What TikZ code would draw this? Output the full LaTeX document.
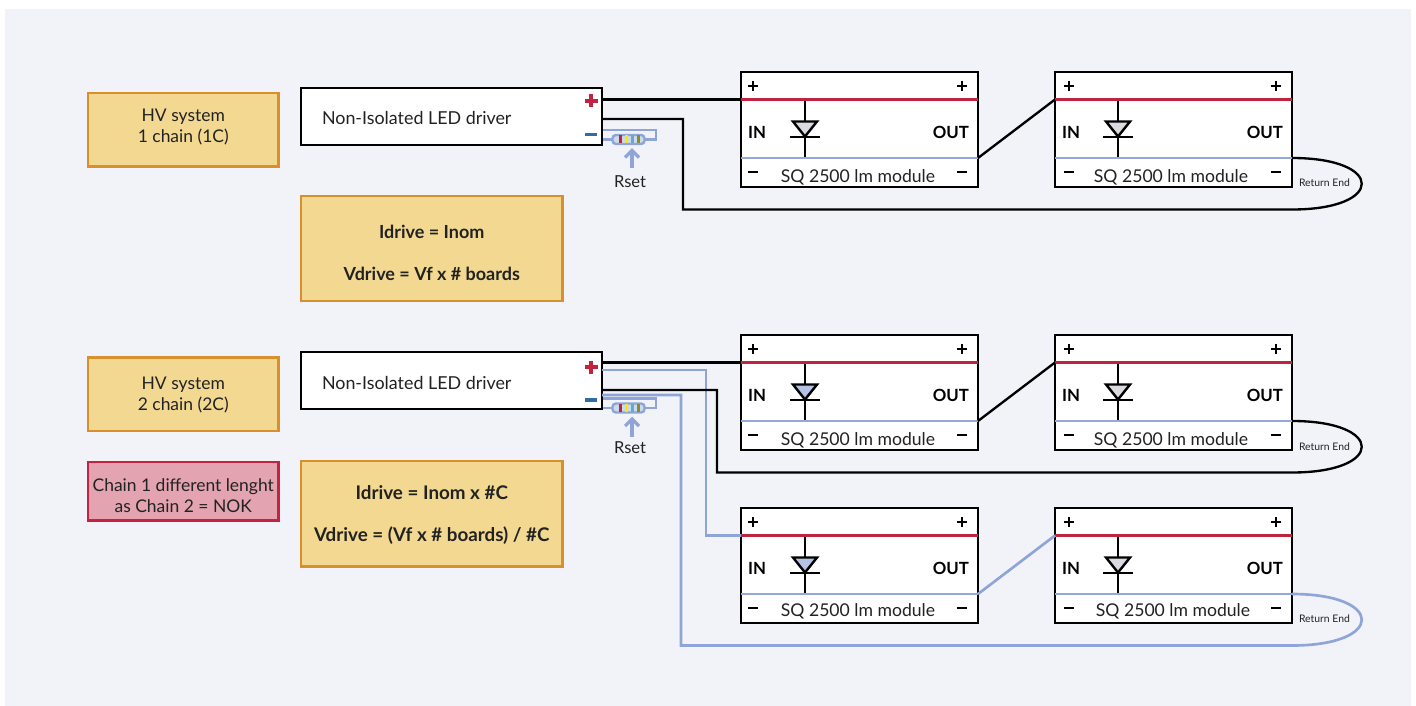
\documentclass[tikz,border=0pt]{standalone}
\usepackage{fontspec}
\setmainfont{Lato}
\definecolor{pagebg}{HTML}{F2F3F9}
\definecolor{amberfill}{HTML}{F2D891}
\definecolor{amberedge}{HTML}{D98F2B}
\definecolor{rosefill}{HTML}{E3A3B0}
\definecolor{roseedge}{HTML}{C8203F}
\definecolor{wireblue}{HTML}{8FA5D8}
\definecolor{railred}{HTML}{C0233F}
\definecolor{railblue}{HTML}{94A9DA}
\definecolor{minusblue}{HTML}{2F6CA8}
\definecolor{inktext}{HTML}{222222}
\definecolor{rosecore}{HTML}{C9DCEB}
\newlength{\pxu}\setlength{\pxu}{0.75pt}
\newcommand{\padtop}[1]{\rule{0pt}{\dimexpr 9.6pt+#1\relax}}
\newcommand{\padbot}[1]{\rule[\dimexpr -2.6pt-#1\relax]{0pt}{\dimexpr 2.6pt+#1\relax}}
\tikzset{
  x=0.75pt,y=-0.75pt,
  boxbase/.style={rectangle,anchor=north west,inner sep=0pt,outer sep=0pt,align=center,text=inktext},
  amberbox/.style={boxbase,draw=amberedge,fill=amberfill,line width=2.2pt,font=\fontsize{13.1}{15.8}\selectfont},
  rosebox/.style={amberbox,draw=roseedge,fill=rosefill},
  infobox/.style={amberbox,font=\fontsize{13.5}{15.8}\selectfont\bfseries},
  driverbox/.style={boxbase,draw=black,fill=white,line width=1.9pt,minimum width=301\pxu,minimum height=57\pxu},
  modbox/.style={boxbase,draw=black,fill=white,line width=1.9pt,minimum width=237\pxu,minimum height=115\pxu},
  blackwire/.style={draw=black,line width=1.75pt,line join=miter},
  bluewire/.style={draw=wireblue,line width=2pt,line join=miter},
  redrail/.style={draw=railred,line width=1.6pt},
  bluerail/.style={draw=railblue,line width=2.2pt},
  lbl/.style={inner sep=0pt,outer sep=0pt,text=inktext,font=\fontsize{13.2}{15}\selectfont},
  drvlbl/.style={inner sep=0pt,outer sep=0pt,text=inktext,font=\fontsize{13.4}{15}\selectfont},
  rsetlbl/.style={inner sep=0pt,outer sep=0pt,text=inktext,font=\fontsize{12.4}{15}\selectfont},
  blbl/.style={inner sep=0pt,outer sep=0pt,text=black,font=\fontsize{12.6}{15}\selectfont\bfseries},
  small/.style={inner sep=0pt,outer sep=0pt,text=inktext,font=\fontsize{7.8}{9}\selectfont},
}
% #1 name, #2 x, #3 y, #4 diode fill, #5 label centre, #6 left terminal x, #7 diode x
\newcommand{\modulepic}[7]{%
  \begin{scope}[shift={(#2,#3)}]
    \node[modbox] (#1) at (0,0) {};
    \coordinate (#1pl) at (0,27.5);
    \coordinate (#1pr) at (237,27.5);
    \coordinate (#1ml) at (0,86);
    \coordinate (#1mr) at (237,86);
    \coordinate (#1dt) at (#7,27.5);
    \coordinate (#1db) at (#7,86);
    \draw[blackwire] (#1dt) -- (#1db);
    \draw[redrail] (#1pl) -- (#1pr);
    \draw[bluerail] (#1ml) -- (#1mr);
    \draw[draw=black,fill=#4,line width=1.8pt,line join=miter] ([xshift=-12\pxu]#7,49.5) -- ([xshift=12\pxu]#7,49.5) -- (#7,64.5) -- cycle;
    \draw[blackwire] ([xshift=-15\pxu]#7,65) -- ([xshift=15\pxu]#7,65);
    \draw[line width=1.5pt] ([xshift=-5\pxu]#6,14) -- ([xshift=5\pxu]#6,14) (#6,9) -- (#6,19);
    \draw[line width=1.5pt] (216,14) -- (226,14) (221,9) -- (221,19);
    \draw[line width=1.5pt] ([xshift=-5\pxu]#6,100) -- ([xshift=5\pxu]#6,100);
    \draw[line width=1.5pt] (216,100) -- (226,100);
    \node[blbl,anchor=west] (#1in) at (7,60) {IN};
    \node[blbl,anchor=east] (#1out) at (228,60) {OUT};
    \node[lbl] (#1lab) at (#5) {SQ 2500 lm module};
  \end{scope}%
}
\newcommand{\resistorpic}[2]{%
  \begin{scope}[shift={(0,#2)}]
    \coordinate (#1wa) at (602,139.5);
    \coordinate (#1wb) at (602,130);
    \coordinate (#1wc) at (656,130);
    \coordinate (#1wd) at (656,139.5);
    \draw[draw=wireblue,line width=1.7pt,line join=miter] (#1wb) -- (#1wc) -- (#1wd) -- (645,139.5);
    \draw[draw=wireblue,line width=1.7pt] (#1wa) -- (613,139.5);
    \node[rectangle,rounded corners=2.5pt,draw=wireblue,fill=rosecore,line width=1.8pt,minimum width=32\pxu,minimum height=9\pxu,inner sep=0pt,outer sep=0pt] (#1body) at (628.5,139.5) {};
    \fill[railred] (618.5,135.5) rectangle (621.5,143.5);
    \fill[yellow!90!orange] (624.5,135.5) rectangle (627.5,143.5);
    \fill[cyan!60!blue!60] (630.5,135.5) rectangle (633.5,143.5);
    \fill[olive!70!gray] (636.5,135.5) rectangle (639.5,143.5);
    \draw[draw=wireblue,line width=2.4pt,line join=miter] (632,168) -- (632,151);
    \draw[draw=wireblue,line width=2.4pt,line join=miter] (625,157.5) -- (632,150.5) -- (639,157.5);
  \end{scope}%
}
\begin{document}
\begin{tikzpicture}
\useasboundingbox (0,0) rectangle (1416,706);
\fill[white] (0,0) rectangle (1416,706);
\fill[pagebg] (5,9) rectangle (1411,706);

% left boxes
\node[amberbox,minimum width=190.5\pxu,minimum height=73.5\pxu] (hv1) at (88,93) {HV system\\1 chain (1C)\padbot{3pt}};
\node[amberbox,minimum width=190.5\pxu,minimum height=73.5\pxu] (hv2) at (88,357.5) {\padtop{1.5pt}HV system\\2 chain (2C)};
\node[rosebox,minimum width=190.5\pxu,minimum height=58.5\pxu] (nok) at (88,462) {\padtop{6.75pt}Chain 1 different lenght\\as Chain 2 = NOK};
\node[infobox,minimum width=261.5\pxu,minimum height=105\pxu] (inf1) at (301,196) {\padtop{7.5pt}Idrive = Inom\\[\baselineskip]Vdrive = Vf x \# boards};
\node[infobox,font=\fontsize{14.1}{15.8}\selectfont\bfseries,minimum width=261.5\pxu,minimum height=105.5\pxu] (inf2) at (301,461) {\padtop{3pt}Idrive = Inom x \#C\\[\baselineskip]Vdrive = (Vf x \# boards) / \#C};

% resistors
\resistorpic{ra}{0}
\resistorpic{rb}{268.5}
\node[rsetlbl] (rseta) at (630,181.5) {Rset};
\node[rsetlbl] (rsetb) at (630,447.5) {Rset};

% modules
\modulepic{ma}{741}{72}{black!10!pagebg}{117,105}{12}{64}
\modulepic{mb}{1055}{72}{black!10!pagebg}{116,105}{14}{63}
\modulepic{mc}{741}{335}{railblue!70!white}{117,105}{12}{64}
\modulepic{md}{1055}{335}{black!10!pagebg}{116,105}{14}{63}
\modulepic{me}{741}{508}{railblue!70!white}{117,103}{12}{64}
\modulepic{mf}{1055}{508}{black!10!pagebg}{118,103}{14}{63}

% chain 1C
\node[driverbox] (da) at (301,88) {};
\node[drvlbl,anchor=west] (dat) at (322,118) {Non-Isolated LED driver};
\coordinate (dap) at (602,99.5);
\coordinate (dam) at (602,119);
\coordinate (aa) at (683,119);
\coordinate (ab) at (683,209.5);
\coordinate (ac) at (1292,209.5);
\draw[blackwire] (dap) -- (mapl);
\draw[blackwire] (dam) -- (aa) -- (ab) -- (ac) .. controls (1385,209.5) and (1385,158) .. (mbmr);
\draw[blackwire] (mamr) -- (mbpl);

% chain 2C
\node[driverbox] (db) at (301,352) {};
\node[drvlbl,anchor=west] (dbt) at (322,383) {Non-Isolated LED driver};
\coordinate (dbp) at (602,362.5);
\coordinate (dbq) at (602,370);
\coordinate (dbm) at (602,390);
\coordinate (dbn) at (602,395);
\coordinate (ba) at (706,370);
\coordinate (bb) at (706,535.5);
\coordinate (bc) at (717,390);
\coordinate (bd) at (717,472.5);
\coordinate (be) at (1292,472.5);
\coordinate (bf) at (681,395);
\coordinate (bg) at (681,645.5);
\coordinate (bh) at (1292,645.5);
\draw[bluewire] (dbq) -- (ba) -- (bb) -- (mepl);
\draw[bluewire] (dbn) -- (bf) -- (bg) -- (bh) .. controls (1385,645.5) and (1385,594) .. (mfmr);
\draw[blackwire] (dbp) -- (mcpl);
\draw[blackwire] (dbm) -- (bc) -- (bd) -- (be) .. controls (1385,472.5) and (1385,421) .. (mdmr);
\draw[blackwire] (mcmr) -- (mdpl);
\draw[bluewire] (memr) -- (mfpl);

% driver terminals
\draw[railred,line width=2.4pt] (584.5,101) -- (597.5,101) (591,94.5) -- (591,107.5);
\draw[minusblue,line width=2.4pt] (585,134.5) -- (597,134.5);
\draw[railred,line width=2.4pt] (584.5,367) -- (597.5,367) (591,360.5) -- (591,373.5);
\draw[minusblue,line width=2.4pt] (585,400) -- (597,400);

% return labels
\node[small,anchor=west] (rea) at (1299,183) {Return End};
\node[small,anchor=west] (reb) at (1299,447) {Return End};
\node[small,anchor=west] (rec) at (1299,619) {Return End};
\end{tikzpicture}
\end{document}
